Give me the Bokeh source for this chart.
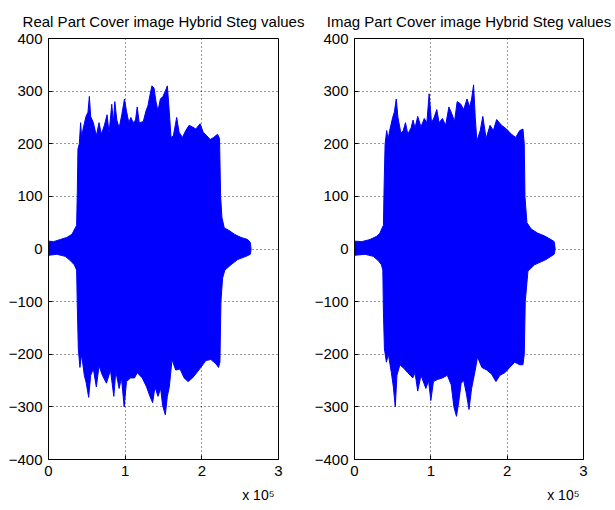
from bokeh.plotting import figure
from bokeh.layouts import row
from bokeh.models import FixedTicker, Range1d, Title
from bokeh.embed import file_html
from bokeh.resources import INLINE

# ---- data (x in units of 1e5 samples, y in value units) ----
titles = ["Real Part Cover image Hybrid Steg values",
          "Imag Part Cover image Hybrid Steg values"]

real_upper_x = [0, 0.066, 0.153, 0.240, 0.306, 0.349, 0.367, 0.376, 0.384, 0.402, 0.419, 0.432,
                0.454, 0.489, 0.515, 0.533, 0.550, 0.585, 0.624, 0.659, 0.690, 0.729, 0.764,
                0.790, 0.825, 0.847, 0.865, 0.891, 0.921, 0.956, 0.991, 1.017, 1.048, 1.074,
                1.105, 1.135, 1.157, 1.183, 1.236, 1.271, 1.297, 1.323, 1.349, 1.376, 1.402,
                1.428, 1.459, 1.493, 1.524, 1.550, 1.576, 1.598, 1.629, 1.672, 1.703, 1.747,
                1.790, 1.834, 1.878, 1.921, 1.978, 2.017, 2.066, 2.109, 2.153, 2.205, 2.231,
                2.245, 2.262, 2.293, 2.358, 2.424, 2.511, 2.598, 2.633, 2.642]
real_upper_y = [15, 14, 18, 22, 28, 40, 45, 110, 190, 200, 240, 212,
                230, 252, 260, 290, 252, 240, 215, 240, 218, 235, 255,
                220, 275, 240, 280, 245, 230, 255, 285, 262, 240, 250,
                240, 245, 270, 240, 242, 262, 272, 292, 310, 306, 280,
                262, 285, 290, 300, 310, 260, 212, 215, 250, 222, 212,
                225, 235, 232, 228, 238, 222, 215, 208, 212, 218, 210,
                100, 60, 40, 35, 28, 22, 18, 12, 0]
real_lower_x = [0, 0.109, 0.218, 0.284, 0.336, 0.367, 0.376, 0.389, 0.410, 0.432, 0.467, 0.493,
                0.524, 0.550, 0.585, 0.624, 0.659, 0.703, 0.756, 0.808, 0.852, 0.878, 0.921,
                0.952, 0.987, 1.017, 1.070, 1.122, 1.157, 1.223, 1.279, 1.323, 1.358, 1.389,
                1.428, 1.463, 1.489, 1.524, 1.550, 1.576, 1.611, 1.659, 1.716, 1.769, 1.821,
                1.878, 1.934, 1.987, 2.052, 2.118, 2.183, 2.218, 2.236, 2.249, 2.271, 2.301,
                2.380, 2.467, 2.576, 2.633, 2.642]
real_lower_y = [-12, -10, -14, -22, -30, -40, -110, -190, -225, -200, -240, -255,
                -282, -240, -228, -262, -222, -240, -255, -230, -280, -232, -265,
                -245, -300, -252, -245, -245, -235, -245, -262, -280, -292, -262,
                -280, -265, -298, -315, -280, -262, -210, -230, -228, -245, -252,
                -245, -235, -225, -212, -210, -218, -225, -215, -100, -55, -40,
                -30, -20, -14, -10, 0]

imag_upper_x = [0, 0.095, 0.203, 0.289, 0.332, 0.362, 0.379, 0.388, 0.401, 0.422, 0.440, 0.461,
                0.500, 0.522, 0.547, 0.569, 0.608, 0.638, 0.668, 0.698, 0.741, 0.767, 0.793,
                0.828, 0.871, 0.914, 0.948, 0.978, 1.009, 1.043, 1.078, 1.108, 1.151, 1.194,
                1.237, 1.280, 1.310, 1.345, 1.388, 1.431, 1.474, 1.509, 1.534, 1.560, 1.582,
                1.603, 1.647, 1.681, 1.724, 1.776, 1.819, 1.862, 1.927, 1.991, 2.056, 2.112,
                2.164, 2.207, 2.224, 2.233, 2.259, 2.315, 2.401, 2.487, 2.573, 2.616, 2.629]
imag_upper_y = [15, 14, 18, 24, 30, 40, 45, 120, 200, 225, 208, 225,
                250, 260, 285, 250, 220, 225, 240, 218, 230, 245, 230,
                252, 232, 248, 240, 295, 240, 250, 265, 240, 248, 235,
                270, 255, 242, 280, 276, 265, 285, 270, 285, 312, 250,
                205, 225, 252, 210, 235, 225, 246, 235, 228, 218, 212,
                225, 228, 200, 100, 50, 38, 30, 25, 18, 14, 0]
imag_lower_x = [0, 0.138, 0.246, 0.310, 0.353, 0.371, 0.379, 0.392, 0.418, 0.444, 0.483, 0.509,
                0.534, 0.556, 0.595, 0.655, 0.698, 0.763, 0.793, 0.828, 0.871, 0.935, 0.970,
                1.000, 1.034, 1.086, 1.151, 1.216, 1.267, 1.302, 1.336, 1.366, 1.397, 1.431,
                1.466, 1.500, 1.534, 1.582, 1.612, 1.668, 1.733, 1.797, 1.853, 1.905, 1.970,
                2.034, 2.099, 2.164, 2.207, 2.224, 2.237, 2.272, 2.358, 2.509, 2.616, 2.629]
imag_lower_y = [-12, -10, -14, -22, -30, -40, -120, -190, -215, -200, -235, -262,
                -300, -240, -220, -228, -235, -245, -235, -270, -240, -265, -250,
                -288, -252, -248, -245, -240, -258, -300, -318, -290, -255, -250,
                -275, -305, -265, -230, -205, -225, -230, -238, -252, -240, -235,
                -225, -215, -220, -220, -200, -100, -42, -30, -20, -10, 0]

x_ticks = [0, 100000, 200000, 300000]
x_tick_labels = ["0", "1", "2", "3"]
y_ticks = [-400, -300, -200, -100, 0, 100, 200, 300, 400]
x_scale_note = "x 10\u2075"

FONT = "Liberation Sans"
BLUE = "#0000FF"
FIG_H = 510


def make_panel(title, ux, uy, lx, ly, width, border_left, border_right):
    p = figure(width=width, height=FIG_H, output_backend="svg", toolbar_location=None,
               x_range=Range1d(0, 300000), y_range=Range1d(-400, 400),
               min_border_left=border_left, min_border_right=border_right,
               min_border_top=38, min_border_bottom=FIG_H - 38 - 421,
               background_fill_color="white", border_fill_color="white")
    p.add_layout(Title(text=title, align="center", text_font=FONT, text_font_size="15px",
                       text_font_style="normal", text_color="black", standoff=18), "above")
    xs = [v * 100000 for v in ux] + [v * 100000 for v in reversed(lx)]
    ys = list(uy) + list(reversed(ly))
    p.patch(xs, ys, fill_color=BLUE, line_color=BLUE, line_width=1)

    p.xaxis.ticker = FixedTicker(ticks=x_ticks)
    p.xaxis.major_label_overrides = {t: l for t, l in zip(x_ticks, x_tick_labels)}
    p.yaxis.ticker = FixedTicker(ticks=y_ticks)
    for ax in (p.xaxis, p.yaxis):
        ax.major_label_text_font = FONT
        ax.major_label_text_font_size = "15px"
        ax.major_label_text_color = "black"
        ax.axis_line_color = "black"
        ax.major_tick_in = 4
        ax.major_tick_out = 0
        ax.major_tick_line_color = "black"
        ax.minor_tick_line_color = None
    p.yaxis.major_label_standoff = 6
    p.xaxis.major_label_standoff = 6
    p.grid.grid_line_color = "black"
    p.grid.grid_line_dash = "1 3"
    p.grid.grid_line_alpha = 0.8
    p.outline_line_color = "black"
    p.outline_line_alpha = 1

    # "x 10^5" scale note under the right end of the x axis
    p.add_layout(Title(text=x_scale_note, align="right", offset=4, standoff=12,
                       text_font=FONT, text_font_size="14px", text_font_style="normal",
                       text_color="black"), "below")
    return p


left = make_panel(titles[0], real_upper_x, real_upper_y, real_lower_x, real_lower_y,
                  311, 48, 33)
right = make_panel(titles[1], imag_upper_x, imag_upper_y, imag_lower_x, imag_lower_y,
                   303, 40, 31)

layout = row(left, right, spacing=0)
open("out.html", "w").write(file_html(layout, INLINE))
